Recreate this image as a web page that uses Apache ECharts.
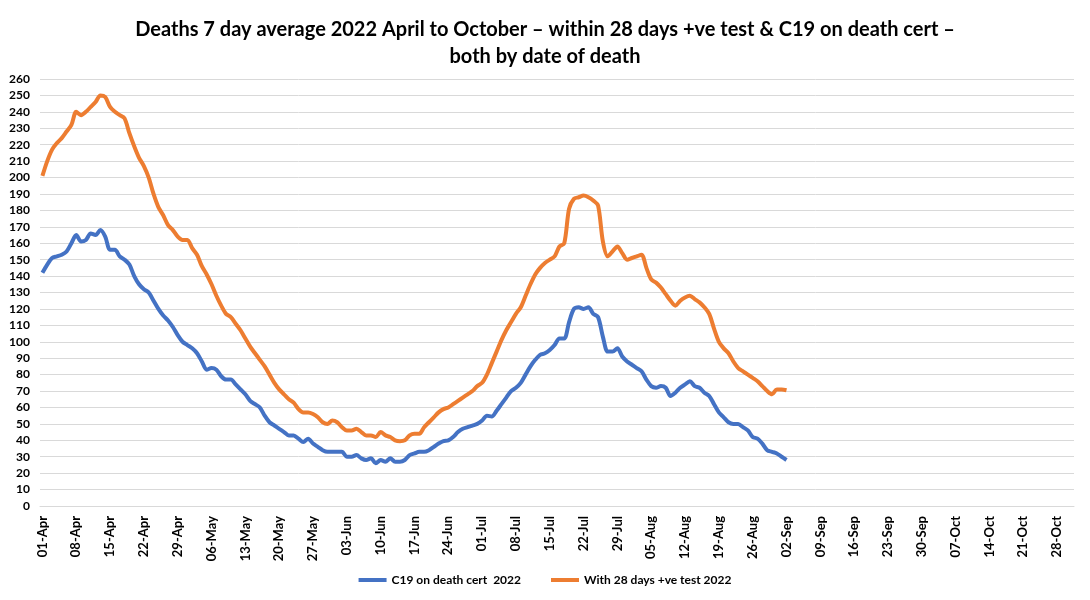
<!DOCTYPE html>
<html>
<head>
<meta charset="utf-8">
<script src="https://cdn.jsdelivr.net/npm/echarts@6/dist/echarts.min.js"></script>
<style>
  html, body { margin: 0; padding: 0; background: #fff; }
  #chart { width: 1090px; height: 600px; }
</style>
</head>
<body>
<div id="chart"></div>
<script>
// daily categories 01-Apr .. 31-Oct
var months = ['Apr', 'May', 'Jun', 'Jul', 'Aug', 'Sep', 'Oct'];
var monthDays = [30, 31, 30, 31, 31, 30, 31];
var dates = [];
for (var m = 0; m < months.length; m++) {
    for (var d = 1; d <= monthDays[m]; d++) {
        dates.push((d < 10 ? '0' : '') + d + '-' + months[m]);
    }
}

// C19 on death cert (01-Apr .. 02-Sep)
var certDeaths = [
    142, 147, 151, 152, 153, 155, 160, 165, 161, 162, 166, 165, 168, 164, 156, 156, 152, 150, 147, 140, 135, 132, 130, 125, 120, 116, 113, 109,
    104, 100, 98, 96, 93, 88, 83, 84, 83, 79, 77, 77, 74, 71, 68, 64, 62, 60, 55, 51, 49, 47, 45, 43, 43, 41, 39, 41, 38, 36, 34, 33, 33, 33, 33,
    30, 30, 31, 29, 28, 29, 26, 28, 27, 29, 27, 27, 28, 31, 32, 33, 33, 34, 36, 38, 39.5, 40, 42, 45, 47, 48, 49, 50, 52, 55, 54.5, 58, 62, 66, 70,
    72, 75, 80, 85, 89, 92, 93, 95, 98, 102, 102, 112, 120,
    121, 120, 121, 117, 115, 103, 94, 94, 96, 91, 88, 86, 84, 82, 77, 73, 72, 73, 72, 67, 69, 72, 74, 76, 73, 72, 69, 67, 62, 57, 54, 51, 50, 50,
    48, 46, 42, 41, 38, 34, 33, 32, 30, 28
];

// within 28 days of +ve test (01-Apr .. 02-Sep)
var testDeaths = [
    201, 210, 217, 221, 224, 228, 232, 240, 238, 240, 243, 246, 250, 249, 243, 240, 238, 236, 227, 219, 212, 207, 200, 190, 182, 177, 171, 168, 164, 162, 162, 157,
    153, 146, 141, 135, 128, 122, 117, 115, 111, 107, 102, 97, 93, 89, 85, 80, 75, 71, 68, 65, 63, 59, 57, 57, 56, 54, 51, 50, 52, 51, 48,
    46, 46, 47, 45, 43, 43, 42, 45, 43, 42, 40, 39.5, 40, 43, 44, 44, 48, 51, 54, 57, 59, 60, 62, 64, 66, 68, 70, 73,
    75, 80, 87, 94, 101, 107, 112, 117, 121, 128, 135, 141, 145, 148, 150, 152, 158, 160, 181, 187, 188, 189, 188, 186, 183, 161, 152, 155, 158, 154,
    150, 151, 152, 153, 145, 138, 136, 133, 129, 125, 122, 125, 127, 128, 126, 124, 121, 117, 108, 100, 96, 93, 88, 84, 82, 80, 78, 76, 73, 70,
    68, 71, 71, 70.5
];

var myChart = echarts.init(document.getElementById('chart'));

var labelFont = 'Lato, "Open Sans", sans-serif';

option = {
    backgroundColor: '#fff',
    animation: false,
    title: {
        text: 'Deaths 7 day average 2022 April to October \u2013 within 28 days +ve test & C19 on death cert \u2013\nboth by date of death',
        left: 'center',
        top: 11,
        textStyle: {
            fontFamily: labelFont,
            fontSize: 20,
            fontWeight: 'bold',
            color: '#000',
            lineHeight: 27
        }
    },
    legend: {
        bottom: 9,
        left: 'center',
        itemGap: 30,
        itemWidth: 28,
        itemHeight: 4,
        icon: 'rect',
        textStyle: {
            fontFamily: labelFont,
            fontSize: 12,
            fontWeight: 'bold',
            color: '#000'
        },
        data: ['C19 on death cert  2022', 'With 28 days +ve test 2022']
    },
    grid: {
        left: 40,
        right: 16,
        top: 79,
        bottom: 94
    },
    xAxis: {
        type: 'category',
        data: dates,
        boundaryGap: true,
        axisLine: { lineStyle: { color: '#d9d9d9' } },
        axisTick: { show: false },
        axisLabel: {
            interval: 6,
            rotate: 90,
            margin: 10,
            fontFamily: labelFont,
            fontSize: 13,
            fontWeight: 'bold',
            color: '#000'
        },
        splitLine: { show: false }
    },
    yAxis: {
        type: 'value',
        min: 0,
        max: 260,
        interval: 10,
        axisLine: { show: false },
        axisTick: { show: false },
        axisLabel: {
            margin: 10,
            fontFamily: labelFont,
            fontSize: 12,
            fontWeight: 'bold',
            color: '#000'
        },
        splitLine: { lineStyle: { color: '#d9d9d9', width: 1 } }
    },
    series: [{
        name: 'C19 on death cert  2022',
        type: 'line',
        data: certDeaths,
        smooth: 0.3,
        showSymbol: false,
        itemStyle: { color: '#4472c4' },
        lineStyle: { color: '#4472c4', width: 4 }
    }, {
        name: 'With 28 days +ve test 2022',
        type: 'line',
        data: testDeaths,
        smooth: 0.3,
        showSymbol: false,
        itemStyle: { color: '#ed7d31' },
        lineStyle: { color: '#ed7d31', width: 4 }
    }]
};
myChart.setOption(option);
</script>
</body>
</html>
